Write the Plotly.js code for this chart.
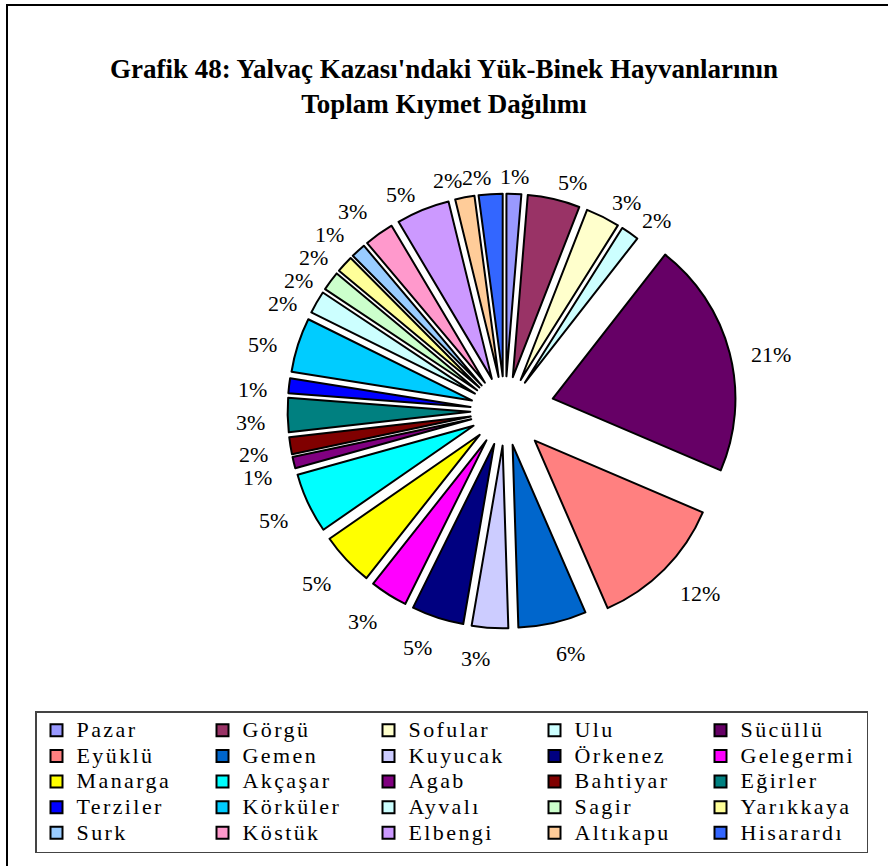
<!DOCTYPE html>
<html>
<head>
<meta charset="utf-8">
<script src="https://cdn.plot.ly/plotly-3.0.1.min.js"></script>
<style>
  html, body { margin: 0; padding: 0; background: #fff; }
  #chart { width: 888px; height: 866px; }
  .legend .legendtext { letter-spacing: 2.4px; font-size: 22px !important; }
</style>
</head>
<body>
<div id="chart"></div>
<script>
// Villages (slice order, clockwise from 12 o'clock)
var categories = ["Pazar","Görgü","Sofular","Ulu","Sücüllü",
  "Eyüklü","Gemen","Kuyucak","Örkenez","Gelegermi",
  "Manarga","Akçaşar","Agab","Bahtiyar","Eğirler",
  "Terziler","Körküler","Ayvalı","Sagir","Yarıkkaya",
  "Surk","Köstük","Elbengi","Altıkapu","Hisarardı"];
// Estimated shares (%)
var values = [1.3, 4.6, 3.0, 1.6, 20.8,
  12.0, 6.0, 3.2, 4.6, 3.3,
  4.7, 5.3, 1.0, 1.5, 3.0,
  1.3, 4.8, 2.0, 1.7, 1.5,
  1.3, 2.6, 4.7, 1.7, 2.1];
// Percentage labels as printed on the chart
var pctLabels = ["1%","5%","3%","2%","21%",
  "12%","6%","3%","5%","3%",
  "5%","5%","1%","2%","3%",
  "1%","5%","2%","2%","2%",
  "1%","3%","5%","2%","2%"];
var colors = ["#9999FF","#993366","#FFFFCC","#CCFFFF","#660066",
  "#FF8080","#0066CC","#CCCCFF","#000080","#FF00FF",
  "#FFFF00","#00FFFF","#800080","#800000","#008080",
  "#0000FF","#00CCFF","#CCFFFF","#CCFFCC","#FFFF99",
  "#99CCFF","#FF99CC","#CC99FF","#FFCC99","#3366FF"];
var pulls = categories.map(function (c) {
  if (c === "Sücüllü") return 0.27;
  if (c === "Eyüklü") return 0.23;
  return 0.19;
});

var W = 888, H = 866;
var cx = 505, cy = 411, half = 232;
var maxPull = Math.max.apply(null, pulls);
var R = half / (1 + maxPull);   // same rule Plotly uses to fit pulled slices

// Percentage labels placed just outside each slice, along its bisector
var total = values.reduce(function (a, b) { return a + b; }, 0);
var labelPos = [];
var cum = 0;
values.forEach(function (v, i) {
  var mid = (cum + v / 2) / total;
  cum += v;
  var th = mid * 2 * Math.PI;
  var s = Math.sin(th), c = Math.cos(th);
  var rr = R * (1 + pulls[i]) + 24;
  var w = 11 * pctLabels[i].length + 4;     // approx. label box width (px)
  var anchor = s > 0.06 ? "left" : (s < -0.06 ? "right" : "center");
  var px = cx + rr * s;
  var ctrX = anchor === "left" ? px + w / 2 : (anchor === "right" ? px - w / 2 : px);
  labelPos.push({ x: ctrX, y: cy + 7 - rr * c, w: w, anchor: anchor, side: s >= 0 ? 1 : -1 });
});
// simple overlap relaxation between neighbouring labels
for (var it = 0; it < 40; it++) {
  for (var i = 0; i < labelPos.length; i++) {
    var a = labelPos[i], b = labelPos[(i + 1) % labelPos.length];
    var dx = Math.abs(a.x - b.x), dy = b.y - a.y;
    var minW = (a.w + b.w) / 2 + 2, minH = 23;
    if (dx < minW && Math.abs(dy) < minH) {
      var push = (minH - Math.abs(dy)) / 2;
      var dir = dy >= 0 ? 1 : -1;
      a.y -= dir * push; b.y += dir * push;
    }
  }
}
var annotations = labelPos.map(function (p, i) {
  return {
    xref: "paper", yref: "paper",
    x: p.x / W, y: (H - p.y) / H,
    text: pctLabels[i], showarrow: false,
    xanchor: "center", yanchor: "middle",
    font: { family: "Liberation Serif", size: 22, color: "#000" }
  };
});

var trace = {
  type: "pie",
  labels: categories,
  values: values,
  textinfo: "none",
  sort: false,
  direction: "clockwise",
  rotation: 0,
  pull: pulls,
  marker: { colors: colors, line: { color: "#000", width: 2 } },
  domain: { x: [(cx - half) / W, (cx + half) / W], y: [(H - cy - half) / H, (H - cy + half) / H] },
  hoverinfo: "label+percent"
};

var layout = {
  width: W, height: H,
  margin: { l: 0, r: 0, t: 0, b: 0 },
  paper_bgcolor: "#fff",
  font: { family: "Liberation Serif", color: "#000" },
  title: {
    text: "Grafik 48: Yalvaç Kazası'ndaki Yük-Binek Hayvanlarının<br>Toplam Kıymet Dağılımı",
    font: { family: "Liberation Serif", size: 27, color: "#000", weight: "bold" },
    x: 0.5, xanchor: "center",
    y: 1 - 78 / H, yanchor: "top"
  },
  showlegend: true,
  legend: {
    orientation: "h",
    x: 35 / W, xanchor: "left",
    y: (H - 711) / H, yanchor: "top",
    entrywidth: 121, entrywidthmode: "pixels",
    font: { family: "Liberation Serif", size: 17.4, color: "#000" },
    bordercolor: "#444", borderwidth: 1.5, bgcolor: "#fff",
    traceorder: "normal"
  },
  annotations: annotations,
  shapes: [{
    type: "rect", xref: "paper", yref: "paper",
    x0: 7 / W, x1: 1.05, y0: -0.05, y1: 1 - 5 / H,
    line: { color: "#000", width: 2 }, fillcolor: "rgba(0,0,0,0)"
  }]
};

Plotly.newPlot("chart", [trace], layout, { displayModeBar: false, staticPlot: true });
</script>
</body>
</html>
